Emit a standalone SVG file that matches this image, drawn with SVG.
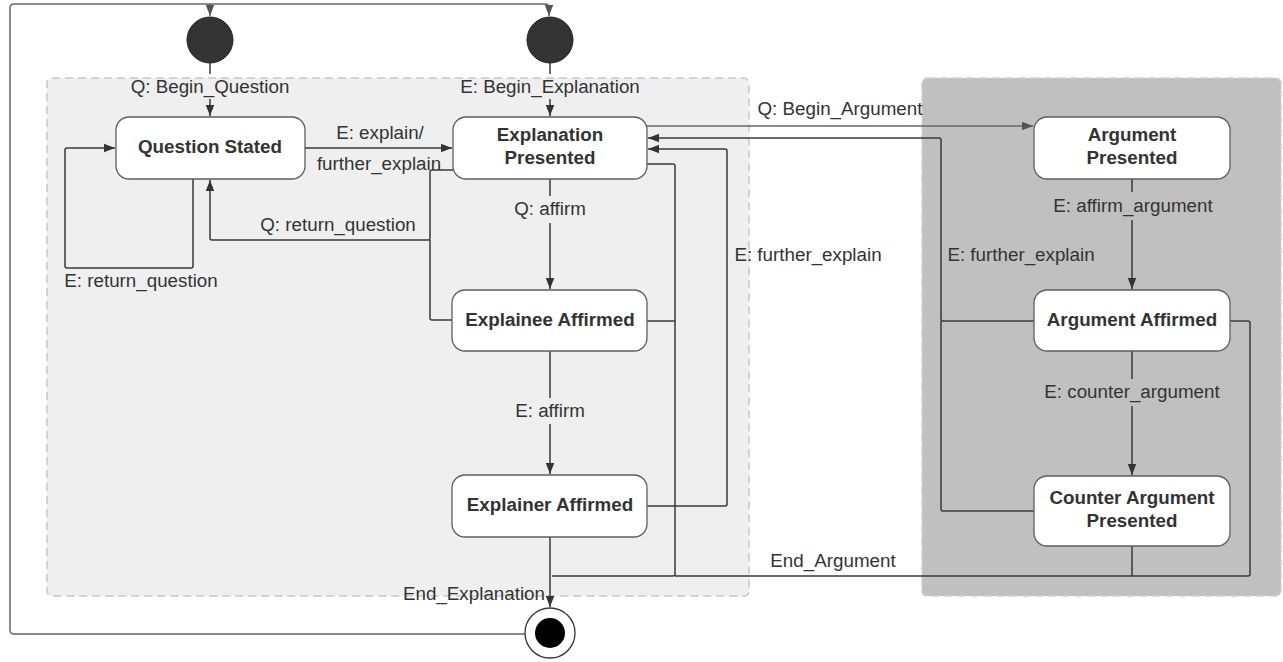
<svg xmlns="http://www.w3.org/2000/svg" width="1283" height="662" viewBox="0 0 1283 662">
<style>
.region1{fill:#efefef;stroke:#c8c8c8;stroke-width:1.5;stroke-dasharray:8 5}
.region2{fill:#c0c0c0;stroke:#d0d0d0;stroke-width:1.5;stroke-dasharray:8 5}
.node rect{fill:#fff;stroke:#5e5e5e;stroke-width:1.3}
.node text{font-family:"Liberation Sans",Arial,sans-serif;font-weight:bold;font-size:18.8px;fill:#333;text-anchor:middle}
.lbl{font-family:"Liberation Sans",Arial,sans-serif;font-size:18.8px;fill:#333;text-anchor:middle}
.c{fill:none;stroke:#3a3a3a;stroke-width:1.5;stroke-linejoin:round}
.cg{fill:none;stroke:#666;stroke-width:1.5;stroke-linejoin:round}
</style>
<defs>
<marker id="ah" markerUnits="userSpaceOnUse" markerWidth="12" markerHeight="10" refX="11" refY="5" orient="auto">
<path d="M0,0.8 L11,5 L0,9.2 Z" fill="#333"/>
</marker>
<marker id="ahg" markerUnits="userSpaceOnUse" markerWidth="12" markerHeight="10" refX="11" refY="5" orient="auto">
<path d="M0,0.8 L11,5 L0,9.2 Z" fill="#555"/>
</marker>
</defs>
<rect width="1283" height="662" fill="#fff"/>
<rect class="region1" x="47" y="78" width="702" height="518" rx="5"/>
<rect class="region2" x="922" y="78" width="359" height="518" rx="5"/>

<g id="connectors">
<path class="cg" d="M525,634 H14 Q10,634 10,630 V8 Q10,4 14,4 H545 Q549,4 549,8 V16" marker-end="url(#ahg)"/>
<path class="cg" d="M210,4 V16" marker-end="url(#ahg)"/>
<path class="c" d="M210,63 V74"/>
<path class="c" d="M210,99 V116" marker-end="url(#ah)"/>
<path class="c" d="M550,63 V74"/>
<path class="c" d="M550,99 V116" marker-end="url(#ah)"/>
<path class="c" d="M305,148 H452" marker-end="url(#ah)"/>
<path class="c" d="M193,179 V266 Q193,268 191,268 H67 Q65,268 65,266 V150 Q65,148 67,148 H115" marker-end="url(#ah)"/>
<path class="c" d="M453,170 H432 Q430,170 430,172 V238 Q430,240 428,240 H212 Q210,240 210,238 V180" marker-end="url(#ah)"/>
<path class="c" d="M452,320 H432 Q430,320 430,318 V240"/>
<path class="c" d="M550,179 V196"/>
<path class="c" d="M550,223 V289" marker-end="url(#ah)"/>
<path class="c" d="M550,351 V398"/>
<path class="c" d="M550,424 V474" marker-end="url(#ah)"/>
<path class="c" d="M550,537 V607" marker-end="url(#ah)"/>
<path class="c" d="M647,164 H673 Q675,164 675,166 V574 Q675,576 673,576 H552"/>
<path class="c" d="M647,321 H675"/>
<path class="c" d="M1230,321 H1248 Q1250,321 1250,323 V574 Q1250,576 1248,576 H675"/>
<path class="c" d="M1132,546 V576"/>
<path class="cg" d="M647,126 H1033" marker-end="url(#ahg)"/>
<path class="c" d="M1034,321 H943 Q941,321 941,319 V140 Q941,138 939,138 H648" marker-end="url(#ah)"/>
<path class="c" d="M1034,511 H943 Q941,511 941,509 V321"/>
<path class="c" d="M647,506 H725 Q727,506 727,504 V151 Q727,149 725,149 H648" marker-end="url(#ah)"/>
<path class="c" d="M1132,179 V192"/>
<path class="c" d="M1132,220 V289" marker-end="url(#ah)"/>
<path class="c" d="M1132,351 V379"/>
<path class="c" d="M1132,406 V475" marker-end="url(#ah)"/>
</g>

<g id="labels">
<text class="lbl" x="210" y="93">Q: Begin_Question</text>
<text class="lbl" x="550" y="93">E: Begin_Explanation</text>
<text class="lbl" x="380" y="139">E: explain/</text>
<text class="lbl" x="379" y="170">further_explain</text>
<text class="lbl" x="338" y="231">Q: return_question</text>
<text class="lbl" x="141" y="287">E: return_question</text>
<text class="lbl" x="550" y="215">Q: affirm</text>
<text class="lbl" x="550" y="417">E: affirm</text>
<text class="lbl" x="545" y="600" style="text-anchor:end">End_Explanation</text>
<text class="lbl" x="840" y="115">Q: Begin_Argument</text>
<text class="lbl" x="808" y="261">E: further_explain</text>
<text class="lbl" x="1021" y="261">E: further_explain</text>
<text class="lbl" x="1133" y="212">E: affirm_argument</text>
<text class="lbl" x="1132" y="398">E: counter_argument</text>
<text class="lbl" x="833" y="567">End_Argument</text>
</g>

<g id="init_question"><circle cx="210" cy="40" r="23" fill="#333" stroke="#222" stroke-width="1"/></g>
<g id="init_explanation"><circle cx="550" cy="40" r="23" fill="#333" stroke="#222" stroke-width="1"/></g>
<g id="end_state"><circle cx="550" cy="633" r="25" fill="#fff" stroke="#333" stroke-width="1.3"/><circle cx="550" cy="633" r="15" fill="#000"/></g>

<g id="question_stated" class="node"><rect x="116" y="117" width="189" height="62" rx="13"/><text x="210" y="153">Question Stated</text></g>
<g id="explanation_presented" class="node"><rect x="453" y="117" width="194" height="62" rx="13"/><text x="550" y="141">Explanation</text><text x="550" y="164">Presented</text></g>
<g id="explainee_affirmed" class="node"><rect x="452" y="290" width="195" height="61" rx="13"/><text x="550" y="326">Explainee Affirmed</text></g>
<g id="explainer_affirmed" class="node"><rect x="452" y="475" width="195" height="62" rx="13"/><text x="550" y="511">Explainer Affirmed</text></g>
<g id="argument_presented" class="node"><rect x="1034" y="117" width="196" height="62" rx="13"/><text x="1132" y="141">Argument</text><text x="1132" y="164">Presented</text></g>
<g id="argument_affirmed" class="node"><rect x="1034" y="290" width="196" height="61" rx="13"/><text x="1132" y="326">Argument Affirmed</text></g>
<g id="counter_argument_presented" class="node"><rect x="1034" y="476" width="196" height="70" rx="13"/><text x="1132" y="504">Counter Argument</text><text x="1132" y="527">Presented</text></g>
</svg>
